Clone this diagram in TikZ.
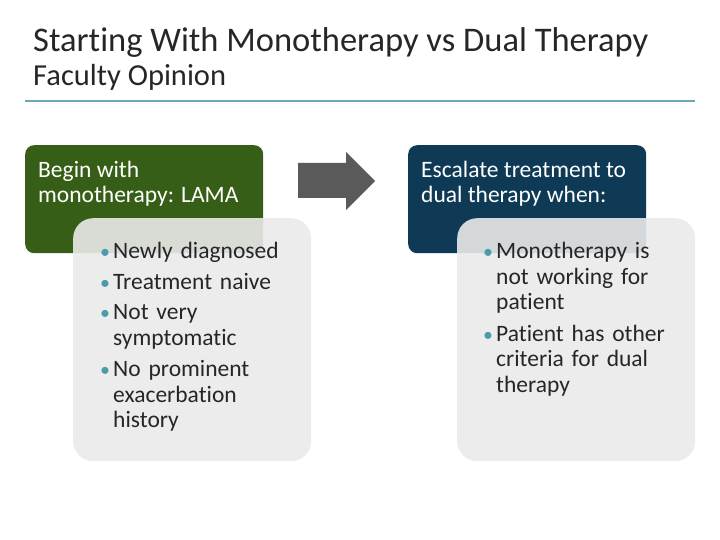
\documentclass[tikz,border=0pt]{standalone}
\usepackage{fontspec}
\setmainfont{Carlito}[Ligatures=NoCommon]
\usepackage{xcolor}
\usepackage{graphicx}
\usetikzlibrary{positioning}
\definecolor{headgreen}{HTML}{375E16}
\definecolor{headblue}{HTML}{0E3A56}
\definecolor{panelgrey}{HTML}{EAEAEA}
\definecolor{arrowgrey}{HTML}{5A5A5A}
\definecolor{bulletteal}{HTML}{4A9DA8}
\definecolor{rulecol}{HTML}{6AA9B5}
\definecolor{titlecol}{HTML}{262626}
\newcommand{\bitem}[1]{\par\noindent
  \makebox[12pt][l]{\hspace*{-1pt}\textcolor{bulletteal}{\scalebox{0.85}{\textbullet}}}%
  \begin{tabular}[t]{@{}l@{}}#1\end{tabular}\par}
\tikzset{
  head box/.style={
    rectangle,
    rounded corners=9pt,
    minimum width=238pt,
    minimum height=108pt,
    anchor=north west,
    inner sep=0pt,
  },
  panel box/.style={
    rectangle,
    rounded corners=20pt,
    minimum width=238pt,
    minimum height=243pt,
    anchor=north west,
    inner sep=0pt,
    fill=panelgrey,
    fill opacity=0.9,
  },
  head text/.style={
    anchor=north west,
    inner sep=0pt,
    text=white,
    font=\fontsize{23.5}{25}\selectfont,
    align=left,
  },
  panel text/.style={
    anchor=north west,
    inner sep=0pt,
    text=titlecol,
    text width=205pt,
    font=\fontsize{23.5}{25.5}\selectfont,
  },
}
\begin{document}
\begin{tikzpicture}[x=1pt,y=-1pt]
  \useasboundingbox (0,0) rectangle (720,540);

  % title
  \node[anchor=base west,inner sep=0pt,text=titlecol,font=\fontsize{34.5}{40}\selectfont] (title) at (33,52) {Starting With Monotherapy vs Dual Therapy};
  \node[anchor=base west,inner sep=0pt,text=titlecol,font=\fontsize{30.5}{34}\selectfont] (subtitle) at (33,86) {Faculty Opinion};
  \draw[rulecol,line width=1.5pt] (25,101) -- (695,101);

  % left column
  \node[head box,fill=headgreen] (mono) at (25,145) {};
  \node[head text] (monotxt) at (38,161) {Begin with\\monotherapy: LAMA};
  \node[panel box] (monopanel) at (73,218) {};
  \node[panel text] (monolist) at (101,233) {%
    \bitem{Newly diagnosed}
    \vspace{5pt}\bitem{Treatment naive}
    \vspace{5pt}\bitem{Not very\\symptomatic}
    \vspace{5pt}\bitem{No prominent\\exacerbation\\history}};

  % arrow
  \fill[arrowgrey] (298,163) -- (346,163) -- (346,152) -- (375,181)
    -- (346,210) -- (346,198) -- (298,198) -- cycle;

  % right column
  \node[head box,fill=headblue] (dual) at (408,145) {};
  \node[head text] (dualtxt) at (421,161) {Escalate treatment to\\dual therapy when:};
  \node[panel box] (dualpanel) at (457,218) {};
  \node[panel text] (duallist) at (484,233) {%
    \bitem{Monotherapy is\\not working for\\patient}
    \vspace{5pt}\bitem{Patient has other\\criteria for dual\\therapy}};
\end{tikzpicture}
\end{document}
